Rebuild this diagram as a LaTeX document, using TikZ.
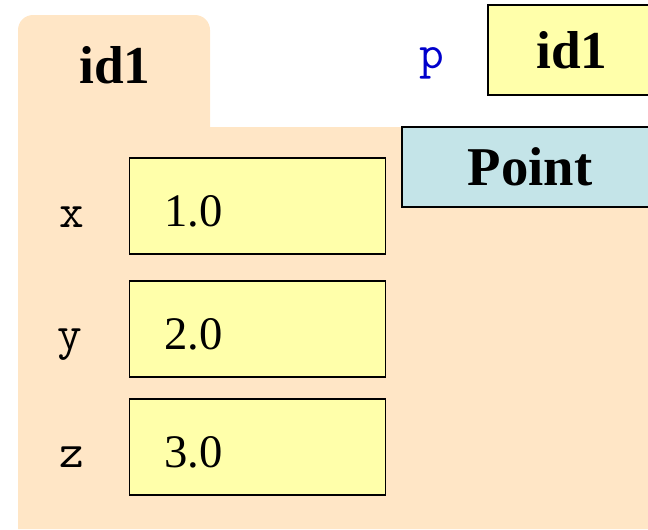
\documentclass[tikz,border=0pt]{standalone}
\usepackage{fontspec}
\setmainfont{Liberation Serif}
\usetikzlibrary{positioning}
\definecolor{folderc}{HTML}{FFE6C6}
\definecolor{valc}{HTML}{FFFFAA}
\definecolor{classc}{HTML}{C4E4E8}
\definecolor{varc}{HTML}{0000CC}
\tikzset{
  valbox/.style={draw, fill=valc, line width=1.1pt, minimum height=72pt, text width=140pt, text height=31pt, text depth=0pt, inner xsep=26pt, align=left, font=\fontsize{35}{40}\selectfont},
  idbox/.style={draw, fill=valc, line width=1.1pt, minimum width=126pt, minimum height=67.5pt, font=\fontsize{40}{46}\selectfont\bfseries},
  classbox/.style={draw, fill=classc, line width=1.1pt, minimum width=192pt, minimum height=60pt, font=\fontsize{41}{46}\selectfont\bfseries},
  fieldlbl/.style={anchor=base, font=\ttfamily\fontsize{36}{40}\selectfont},
}
\begin{document}
\begin{tikzpicture}[x=0.75pt, y=-0.75pt]
			%%%%% START %%%%%
			\useasboundingbox (0, 0) rectangle (648, 529);
			
			\fill[folderc] (18, 529) -- (18, 30) arc (180:270:15) -- (195, 15) arc (270:360:15) -- (210, 127) -- (660, 127) -- (660, 529) -- cycle;
			\node[anchor=base, font=\fontsize{40}{46}\selectfont\bfseries] (tab) at (115, 83) {id1};
			
			\node[fieldlbl, text=varc] (pname) at (432, 68) {p};
			\node[idbox] (pval) at (572, 50) {id1};
			
			\node[classbox] (cls) at (530, 167) {Point};
			
			\node[valbox] (xval) at (257.5, 206) {1.0};
			\node[fieldlbl] (xname) at (72, 227) {x};
			
			\node[valbox] (yval) at (257.5, 329) {2.0};
			\node[fieldlbl] (yname) at (70, 349) {y};
			
			\node[valbox] (zval) at (257.5, 447) {3.0};
			\node[fieldlbl] (zname) at (72, 467) {z};
			
			%%%%% END %%%%%
		\end{tikzpicture}
\end{document}
